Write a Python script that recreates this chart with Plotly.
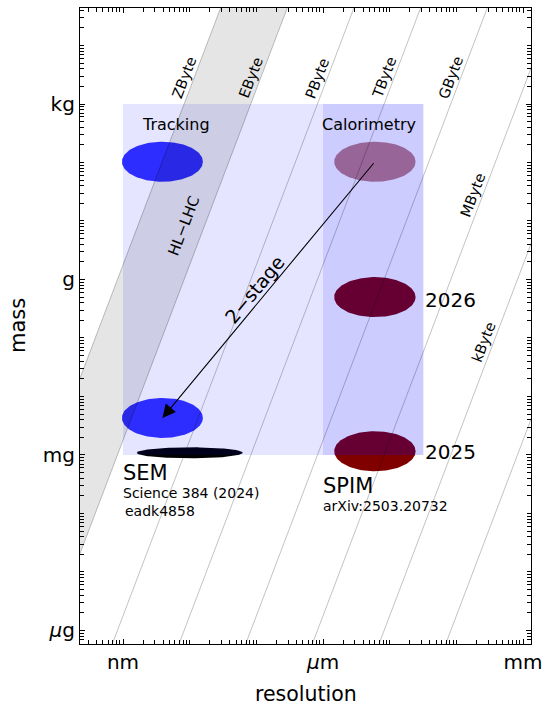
import numpy as np
import plotly.graph_objects as go

# ---- axis ticks -------------------------------------------------------------
res_ticks = [1e-9, 1e-6, 1e-3]
res_labels = ["nm", "<i>μ</i>m", "mm"]
mass_ticks = [1e-9, 1e-6, 1e-3, 1.0]
mass_labels = ["<i>μ</i>g", "mg", "g", "kg"]

# ---- data-volume lines: mass = K * bytes * resolution^3 ---------------------
byte_names = ["ZByte", "EByte", "PByte", "TByte", "GByte", "MByte", "kByte", "Byte"]
byte_sizes = [1e21, 1e18, 1e15, 1e12, 1e9, 1e6, 1e3, 1.0]
byte_label_mass = [2.45, 2.45, 2.45, 2.45, 2.45, 0.0245, 7.5e-5]  # where each name sits
K = 10 ** 3.25  # kg / m^3 per byte

# ---- detector regions --------------------------------------------------------
region_names = ["Tracking", "Calorimetry"]
region_res = [(1e-9, 1e-6), (1e-6, 3.2e-5)]
region_mass = [(1e-6, 1.0), (1e-6, 1.0)]

# ---- measured / projected points (ellipse centres) --------------------------
ell_names = ["Tracking", "Tracking 2-stage", "Calorimetry", "2026", "2025", "SEM"]
ell_res = [3.9e-9, 3.9e-9, 6.0e-6, 6.0e-6, 6.0e-6, 1.0e-8]
ell_mass = [0.103, 4.3e-6, 0.103, 5.0e-4, 1.16e-6, 1.09e-6]

# ---- figure geometry --------------------------------------------------------
W, H = 543, 707
ML, MR, MT, MB = 80, 12, 8, 63
XR = [-9.645, -2.88]
YR = [-9.231, 1.641]
px_dec_x = (W - ML - MR) / (XR[1] - XR[0])
px_dec_y = (H - MT - MB) / (YR[1] - YR[0])
line_angle = np.degrees(np.arctan(3 * px_dec_y / px_dec_x))

FONT = "DejaVu Sans"
fig = go.Figure()


def ellipse(cx, cy, wx, wy, n=160):
    t = np.linspace(0, 2 * np.pi, n)
    return 10 ** (np.log10(cx) + wx * np.cos(t)), 10 ** (np.log10(cy) + wy * np.sin(t))


ell_style = [
    ("rgba(0,0,255,0.8)", 0.6075, 0.342),
    ("rgba(0,0,255,0.8)", 0.6075, 0.342),
    ("rgba(128,0,0,0.5)", 0.6105, 0.342),
    ("rgb(128,0,0)", 0.6105, 0.342),
    ("rgb(128,0,0)", 0.6105, 0.342),
    ("rgb(0,0,0)", 0.795, 0.094),
]
for cx, cy, (col, wx, wy) in zip(ell_res, ell_mass, ell_style):
    ex, ey = ellipse(cx, cy, wx, wy)
    fig.add_trace(go.Scatter(x=ex, y=ey, mode="lines", fill="toself",
                             fillcolor=col, line=dict(width=0), hoverinfo="skip",
                             showlegend=False))

# detector regions drawn over the ellipses
for (r0, r1), (m0, m1), col in zip(region_res, region_mass,
                                   ["rgba(0,0,255,0.1)", "rgba(0,0,255,0.2)"]):
    fig.add_trace(go.Scatter(x=[r0, r1, r1, r0, r0], y=[m0, m0, m1, m1, m0],
                             mode="lines", fill="toself", fillcolor=col,
                             line=dict(width=0), hoverinfo="skip", showlegend=False))

# HL-LHC band between the ZByte and EByte lines
xa, xb = 1e-11, 1e-2
z, e = byte_sizes[0], byte_sizes[1]
fig.add_trace(go.Scatter(
    x=[xa, xb, xb, xa, xa],
    y=[K * z * xa ** 3, K * z * xb ** 3, K * e * xb ** 3, K * e * xa ** 3, K * z * xa ** 3],
    mode="lines", fill="toself", fillcolor="rgba(0,0,0,0.1)",
    line=dict(width=0), hoverinfo="skip", showlegend=False))

# constant data-volume lines
for n in byte_sizes:
    fig.add_trace(go.Scatter(x=[xa, xb], y=[K * n * xa ** 3, K * n * xb ** 3],
                             mode="lines", line=dict(color="rgba(0,0,0,0.3)", width=0.8),
                             hoverinfo="skip", showlegend=False))

ann = []
lg = np.log10


def text(x, y, s, size, **kw):
    d = dict(x=lg(x), y=lg(y), text=s, showarrow=False,
             font=dict(family=FONT, size=size, color="black"))
    d.update(kw)
    ann.append(d)


for name, n, m in zip(byte_names, byte_sizes, byte_label_mass):
    r = (m / (K * n)) ** (1 / 3)
    text(r, m, name, 14.5, textangle=-line_angle, xshift=-8.7, yshift=3.3)

text(8.2e-9, 8.2e-3, "HL−LHC", 15, textangle=-line_angle)
text(6.2e-9, 0.44, region_names[0], 16)
text(4.9e-6, 0.45, region_names[1], 16)

# two-stage arrow from calorimetry to tracking
tail = (ell_res[2], ell_mass[2])
head = (ell_res[1], ell_mass[1])
ann.append(dict(x=lg(head[0]), y=lg(head[1]), ax=lg(tail[0]), ay=lg(tail[1]),
                xref="x", yref="y", axref="x", ayref="y", text="", showarrow=True,
                arrowhead=2, arrowsize=2.4, arrowwidth=1.1, arrowcolor="black"))
dxp = (lg(tail[0]) - lg(head[0])) * px_dec_x
dyp = (lg(tail[1]) - lg(head[1])) * px_dec_y
text(9.5e-8, 6.9e-4, "2−stage", 19, textangle=-np.degrees(np.arctan2(dyp, dxp)))

# method labels with their references
big = '<span style="font-size:21px">{}</span>'
text(1e-9, 10 ** -6.09, big.format("SEM") + "<br>Science 384 (2024)",
     14, xanchor="left", yanchor="top", align="left", borderpad=0, xshift=-1)
text(1e-9, 10 ** -6.949, "eadk4858", 14, xanchor="left")
text(1e-6, 10 ** -6.308, big.format("SPIM") + "<br>arXiv:2503.20732",
     14, xanchor="left", yanchor="top", align="left", borderpad=0, xshift=-1)
text(3.2e-5, 10 ** -3.35, "2026", 20, xanchor="left")
text(3.2e-5, 10 ** -5.944, "2025", 20, xanchor="left")

# axis titles
ann.append(dict(x=-0.1373, y=0.5, xref="paper", yref="paper", text="mass",
                textangle=-90, showarrow=False, xanchor="center", yanchor="middle",
                font=dict(family=FONT, size=21, color="black")))
ann.append(dict(x=0.5, y=-0.0786, xref="paper", yref="paper", text="resolution",
                showarrow=False, xanchor="center", yanchor="middle", borderpad=0,
                font=dict(family=FONT, size=20.5, color="black")))


def minor_vals(lo, hi):
    return [k * 10.0 ** p for p in range(lo, hi) for k in range(1, 10)]


axis_common = dict(type="log", showgrid=False, zeroline=False, showline=True,
                   linecolor="black", linewidth=1.2, mirror="ticks", automargin=False,
                   ticks="inside", ticklen=5, tickwidth=1, tickcolor="black",
                   tickfont=dict(family=FONT, size=20, color="black"))

fig.update_layout(
    width=W, height=H,
    margin=dict(l=ML, r=MR, t=MT, b=MB),
    plot_bgcolor="white", paper_bgcolor="white",
    xaxis=dict(range=XR, tickmode="array", tickvals=res_ticks, ticktext=res_labels,
               minor=dict(tickmode="array", tickvals=minor_vals(-11, -1),
                          ticks="inside", ticklen=3.5, tickwidth=0.8, tickcolor="black"),
               **axis_common),
    yaxis=dict(range=YR, tickmode="array", tickvals=mass_ticks, ticktext=mass_labels,
               minor=dict(tickmode="array", tickvals=minor_vals(-10, 2),
                          ticks="inside", ticklen=3.5, tickwidth=0.8, tickcolor="black"),
               **axis_common),
    annotations=ann,
    showlegend=False,
)

fig.write_html("out.html")
